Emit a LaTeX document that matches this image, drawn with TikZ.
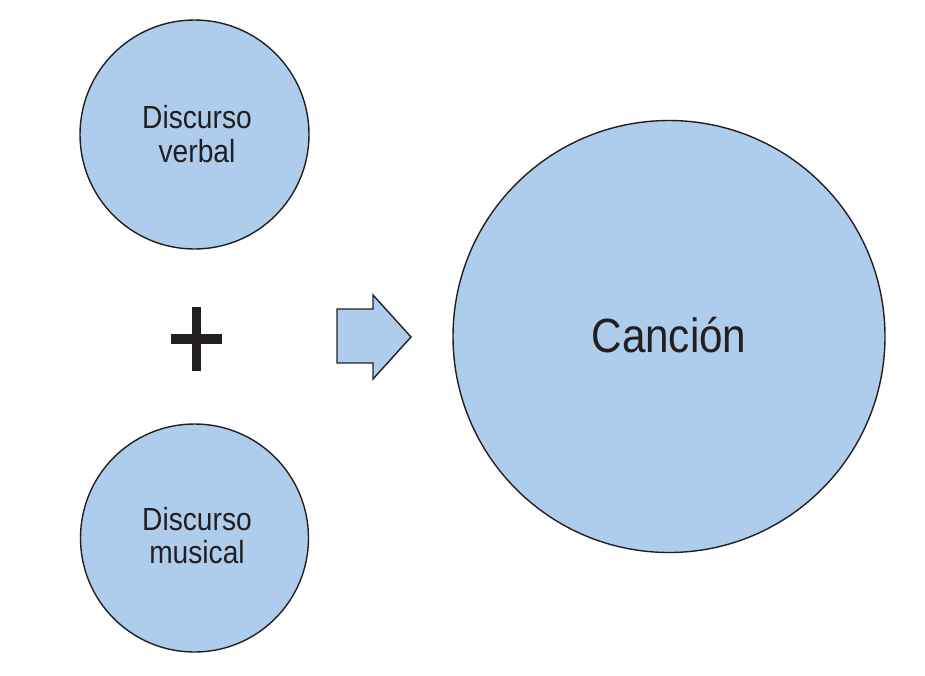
\documentclass[tikz,border=0pt]{standalone}
\usepackage{fontspec}
\setmainfont[FakeStretch=0.88]{Liberation Sans}
\definecolor{cfill}{RGB}{174,205,236}
\definecolor{cink}{RGB}{35,31,32}
\begin{document}
\begin{tikzpicture}[x=1pt,y=-1pt,
  blob/.style={circle,draw=cink,fill=cfill,line width=1.4pt,inner sep=0pt,text=cink,align=center},
  smalltxt/.style={font=\fontsize{32}{34}\selectfont},
  bigtxt/.style={font=\fontsize{48}{52}\selectfont}]
\useasboundingbox (0,0) rectangle (925,675);
\node[blob,minimum size=229pt] (verbal) at (194.5,134.5) {};
\node[text=cink,smalltxt,align=center,anchor=base] (tv1) at (197,128) {Discurso};
\node[text=cink,smalltxt,align=center,anchor=base] (tv2) at (197,162) {verbal};
\node[blob,minimum size=228pt] (musical) at (194.5,538) {};
\node[text=cink,smalltxt,align=center,anchor=base] (tm1) at (197,530) {Discurso};
\node[text=cink,smalltxt,align=center,anchor=base] (tm2) at (197,563) {musical};
\node[blob,minimum size=432pt] (cancion) at (669,336.5) {};
\node[text=cink,bigtxt,anchor=base] (tc) at (669,352) {Canción};
% plus sign
\fill[cink] (192,307) rectangle (201,371);
\fill[cink] (171,334) rectangle (222,344);
% block arrow
\coordinate (a1) at (337,309);
\coordinate (a2) at (373,309);
\coordinate (a3) at (373,295);
\coordinate (a4) at (411,337);
\coordinate (a5) at (373,379);
\coordinate (a6) at (373,363);
\coordinate (a7) at (337,363);
\draw[draw=cink,fill=cfill,line width=1.4pt,line join=miter] (a1) -- (a2) -- (a3) -- (a4) -- (a5) -- (a6) -- (a7) -- cycle;
\end{tikzpicture}
\end{document}
